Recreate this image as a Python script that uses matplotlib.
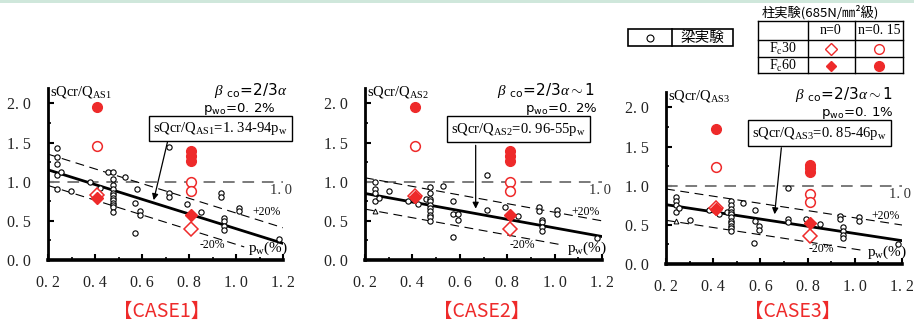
import matplotlib
matplotlib.use("Agg")
import matplotlib.pyplot as plt
from matplotlib.lines import Line2D
from matplotlib.patches import Rectangle
from matplotlib.ticker import MultipleLocator, FuncFormatter

plt.rcParams["font.family"] = ["Liberation Serif", "Noto Sans CJK JP", "DejaVu Sans"]
plt.rcParams["mathtext.fontset"] = "custom"
plt.rcParams["mathtext.rm"] = "Liberation Serif"
plt.rcParams["mathtext.it"] = "Liberation Serif:italic"

RED = "#ee2a2a"
JP = ["Noto Sans CJK JP", "DejaVu Sans"]
SANS = ["DejaVu Sans", "Noto Sans CJK JP"]

# ---- beam tests (open black circles) ----
beam1_pw = [0.237, 0.237, 0.237, 0.237, 0.237, 0.254, 0.297, 0.379, 0.421, 0.457,
            0.475, 0.475, 0.475, 0.475, 0.475, 0.475, 0.475, 0.475, 0.475, 0.475, 0.475, 0.475,
            0.528, 0.570, 0.570, 0.577, 0.591, 0.591, 0.715, 0.715, 0.715, 0.790, 0.851,
            0.936, 0.936, 0.949, 0.949, 0.949, 0.949, 1.014, 1.014, 1.184]
beam1_q = [1.43, 1.32, 1.22, 1.09, 0.91, 1.13, 0.88, 0.99, 0.92, 1.12,
           1.12, 1.04, 0.96, 0.91, 0.86, 0.83, 0.79, 0.76, 0.73, 0.70, 0.68, 0.61,
           1.055, 0.35, 0.73, 0.91, 0.63, 0.58, 1.44, 0.85, 0.81, 0.71, 0.61,
           0.85, 0.80, 0.54, 0.50, 0.44, 0.38, 0.67, 0.62, 0.27]

beam2_pw = [0.242, 0.242, 0.242, 0.242, 0.259, 0.301, 0.383, 0.425, 0.457,
            0.474, 0.474, 0.474, 0.474, 0.474, 0.474, 0.474, 0.474, 0.474, 0.474,
            0.528, 0.573, 0.573, 0.573, 0.591, 0.591, 0.713, 0.713, 0.791, 0.847,
            0.934, 0.934, 0.946, 0.946, 0.946, 0.946, 1.011, 1.011, 1.180]
beam2_q = [0.996, 0.91, 0.85, 0.75, 0.79, 0.88, 0.75, 0.71, 0.775,
           0.931, 0.85, 0.784, 0.75, 0.707, 0.665, 0.62, 0.58, 0.545, 0.495,
           0.95, 0.75, 0.59, 0.295, 0.59, 0.51, 1.08, 0.635, 0.68, 0.56,
           0.68, 0.62, 0.51, 0.48, 0.42, 0.37, 0.64, 0.59, 0.28]

beam3_pw = [0.241, 0.241, 0.241, 0.241, 0.255, 0.302, 0.384, 0.425, 0.457,
            0.475, 0.475, 0.475, 0.475, 0.475, 0.475, 0.475, 0.475, 0.475, 0.475, 0.475,
            0.528, 0.574, 0.577, 0.577, 0.594, 0.594, 0.716, 0.716, 0.716, 0.792, 0.853,
            0.939, 0.939, 0.949, 0.949, 0.949, 0.949, 1.016, 1.016, 1.184]
beam3_q = [0.85, 0.81, 0.75, 0.66, 0.72, 0.56, 0.69, 0.64, 0.667,
           0.81, 0.75, 0.70, 0.667, 0.637, 0.594, 0.552, 0.522, 0.488, 0.454, 0.425,
           0.785, 0.267, 0.69, 0.545, 0.49, 0.44, 0.977, 0.573, 0.54, 0.58, 0.51,
           0.617, 0.573, 0.467, 0.425, 0.37, 0.327, 0.594, 0.545, 0.254]

# triangles (small open)
tri_pw = [None, [0.242], [0.241]]
tri_q = [None, [0.62], [0.55]]

# ---- column tests (red) ----
col_pw_n15_fc60 = [0.41, 0.81, 0.81, 0.81]
col_pw_n15_fc30 = [0.41, 0.81, 0.81]
col_pw_n0 = [0.41, 0.81]

case1_fc60_n15 = [1.95, 1.39, 1.33, 1.27]
case1_fc30_n15 = [1.45, 1.00, 0.88]
case1_fc30_n0 = [0.83, 0.40]
case1_fc60_n0 = [0.79, 0.57]

case2_fc60_n15 = [1.95, 1.39, 1.33, 1.27]
case2_fc30_n15 = [1.45, 1.00, 0.88]
case2_fc30_n0 = [0.82, 0.40]
case2_fc60_n0 = [0.80, 0.57]

case3_fc60_n15 = [1.73, 1.27, 1.22, 1.18]
case3_fc30_n15 = [1.24, 0.90, 0.79]
case3_fc30_n0 = [0.71, 0.36]
case3_fc60_n0 = [0.70, 0.52]

# regression: sQcr/QAS = a - b * pw(%)
reg_a = [1.34, 0.96, 0.85]
reg_b = [0.94, 0.55, 0.46]
eq_labels = ["1.34-94", "0.96-55", "0.85-46"]
beta_tail = ["", r"$\sim$1", r"$\sim$1"]
pwo_labels = ["0.2%", "0.2%", "0.1%"]
case_labels = ["【CASE1】", "【CASE2】", "【CASE3】"]

beams = [(beam1_pw, beam1_q), (beam2_pw, beam2_q), (beam3_pw, beam3_q)]
reds = [
    (case1_fc30_n15, case1_fc60_n15, case1_fc30_n0, case1_fc60_n0),
    (case2_fc30_n15, case2_fc60_n15, case2_fc30_n0, case2_fc60_n0),
    (case3_fc30_n15, case3_fc60_n15, case3_fc30_n0, case3_fc60_n0),
]

W, H = 914, 325
fig = plt.figure(figsize=(W / 100, H / 100), dpi=100)


def fx(px):
    return px / W


def fy(py):
    return 1 - py / H


# thin green band on top
fig.add_artist(Rectangle((0, fy(3)), 1, 3 / H, transform=fig.transFigure,
                         facecolor="#cfe7db", edgecolor="none"))

# axes boxes (pixel left, bottom, width)
boxes = [(48, 260, 235), (365, 260, 237), (666, 264, 236)]
# text / arrow positions per panel, in data units
eq_xy = [(0.934, 1.68), (0.848, 1.67), (0.850, 1.67)]
arrow_from = [(0.711, 1.54), (0.667, 1.50), (0.690, 1.52)]
arrow_to = [(0.647, 0.73), (0.667, 0.62), (0.659, 0.60)]
title_y = [2.14, 2.15, 2.15]
beta_x = [1.217, 1.17, 1.158]
pwo_x = [1.166, 1.18, 1.162]
m20_x = [0.898, 0.862, 0.856]
case_px = [162, 482, 793]

for i in range(3):
    lpx, bpx, wpx = boxes[i]
    hpx = 2.2 * 78.3
    ax = fig.add_axes([fx(lpx), 1 - bpx / H, wpx / W, hpx / H])
    ax.set_xlim(0.2, 1.2)
    ax.set_ylim(0, 2.2)
    for s in ("top", "right"):
        ax.spines[s].set_visible(False)
    ax.spines["left"].set_linewidth(2)
    ax.spines["bottom"].set_linewidth(2.6)
    ax.xaxis.set_major_locator(MultipleLocator(0.2))
    ax.xaxis.set_minor_locator(MultipleLocator(0.1))
    ax.yaxis.set_major_locator(MultipleLocator(0.5))
    ax.yaxis.set_minor_locator(MultipleLocator(0.25))
    fmt = FuncFormatter(lambda v, p: f"{v:.1f}".replace(".", ". "))
    ax.xaxis.set_major_formatter(fmt)
    ax.yaxis.set_major_formatter(fmt)
    ax.tick_params(which="major", direction="in", length=4, width=1.5, labelsize=11.5,
                   pad=11, labelcolor="#222222")
    ax.tick_params(which="minor", direction="in", length=2.5, width=1.2)
    ax.tick_params(axis="y", which="major", pad=12)

    a, b = reg_a[i], reg_b[i]
    xs = [0.2, 1.2]
    ax.plot(xs, [1.0, 1.0], color="#7a7a7a", lw=1.4, dashes=(6, 4), zorder=2)
    ax.plot(xs, [a - b * x for x in xs], color="black", lw=2, zorder=3)
    ax.plot(xs, [a - b * x + 0.2 for x in xs], color="black", lw=0.8, dashes=(8, 5), zorder=2)
    xl = [0.2, 1.035]
    ax.plot(xl, [a - b * x - 0.2 for x in xl], color="black", lw=0.8, dashes=(8, 5), zorder=2)

    bx, by = beams[i]
    ax.plot(bx, by, "o", ms=3.8, mfc="white", mec="black", mew=0.8, zorder=4, clip_on=False)
    if tri_pw[i]:
        ax.plot(tri_pw[i], tri_q[i], "^", ms=3.5, mfc="white", mec="black", mew=0.7, zorder=4)

    o15, f15, o0, f0 = reds[i]
    ax.plot(col_pw_n15_fc30, o15, "o", ms=7, mfc="white", mec=RED, mew=1.1, zorder=5)
    ax.plot(col_pw_n15_fc60, f15, "o", ms=7, mfc=RED, mec=RED, zorder=5)
    ax.plot(col_pw_n0, o0, "D", ms=7, mfc="white", mec=RED, mew=1.1, zorder=5)
    ax.plot(col_pw_n0, f0, "D", ms=6, mfc=RED, mec=RED, zorder=6)

    ax.text(0.21, title_y[i], r"s$\mathregular{Q}$cr/Q$\mathregular{_{AS%d}}$" % (i + 1),
            fontsize=10.5, va="center", ha="left")
    ax.text(beta_x[i], 2.17, r"$\beta$ $\mathregular{_{co}}$=2/3$\alpha$" + beta_tail[i],
            fontsize=11, va="center", ha="right", family=SANS)
    ax.text(pwo_x[i], 1.93, "p" + r"$\mathregular{_{wo}}$" + "=" + pwo_labels[i].replace(".", ". "),
            fontsize=9.5, va="center", ha="right", family=SANS)

    ex, ey = eq_xy[i]
    ax.text(ex, ey, r"sQcr/Q$\mathregular{_{AS%d}}$=%sp$\mathregular{_w}$" % (i + 1, eq_labels[i].replace(".", ". ")),
            fontsize=10.5, ha="center", va="center", zorder=7,
            bbox=dict(boxstyle="square,pad=0.3", fc="white", ec="black", lw=1))
    ax.annotate("", xy=arrow_to[i], xytext=arrow_from[i],
                arrowprops=dict(arrowstyle="-|>", color="black", lw=0.9, mutation_scale=9))

    ax.text(1.19, 0.89, "1. 0", fontsize=10.5, ha="center", va="center", color="#333333")
    ax.text(1.13, 0.61, "+20%", fontsize=8.5, ha="center", va="center")
    ax.text(m20_x[i], 0.19, "-20%", fontsize=8.5, ha="center", va="center")
    ax.text(1.135, 0.15, r"p$\mathregular{_w}$(%)", fontsize=11, ha="center", va="center")

    fig.text(fx(case_px[i]), fy(311), case_labels[i], color=RED, fontsize=14,
             ha="center", va="center", family=JP)


# ---- legend: beam tests ----
def fline(x0, y0, x1, y1, lw=1.0):
    fig.add_artist(Line2D([fx(x0), fx(x1)], [fy(y0), fy(y1)], transform=fig.transFigure,
                          color="black", lw=lw))


fig.add_artist(Rectangle((fx(628), fy(46)), (733 - 628) / W, 17 / H, transform=fig.transFigure,
                         facecolor="white", edgecolor="black", lw=1.2))
fline(672, 29, 672, 46, lw=1.2)
fig.add_artist(Line2D([fx(650)], [fy(37.5)], transform=fig.transFigure, marker="o", ms=5,
                      mfc="white", mec="black", mew=0.8))
fig.text(fx(702), fy(37.5), "梁実験", fontsize=10.5, ha="center", va="center", family=JP)

# ---- legend: column tests table ----
fig.text(fx(762), fy(12), "柱実験(685N/㎜²級)", fontsize=9.5, ha="left", va="center", family=JP)
for yy in (21, 40, 57, 73):
    fline(758, yy, 903, yy, lw=1.0)
for xx in (758, 808, 855, 903):
    fline(xx, 21, xx, 73, lw=1.0)
fig.text(fx(831), fy(31), "n=0", fontsize=10, ha="center", va="center")
fig.text(fx(879), fy(31), "n=0. 15", fontsize=10, ha="center", va="center")
fig.text(fx(783), fy(48.5), r"F$\mathregular{_c}$30", fontsize=10, ha="center", va="center")
fig.text(fx(783), fy(65.5), r"F$\mathregular{_c}$60", fontsize=10, ha="center", va="center")
legend_marks = [(831, 48.5, "D", "white", 6), (879, 48.5, "o", "white", 7),
                (831, 65.5, "D", RED, 5.5), (879, 65.5, "o", RED, 7)]
for mx, my, mk, fc, ms in legend_marks:
    fig.add_artist(Line2D([fx(mx)], [fy(my)], transform=fig.transFigure, marker=mk, ms=ms,
                          mfc=fc, mec=RED, mew=1.0))

fig.savefig("out.png", dpi=100)
